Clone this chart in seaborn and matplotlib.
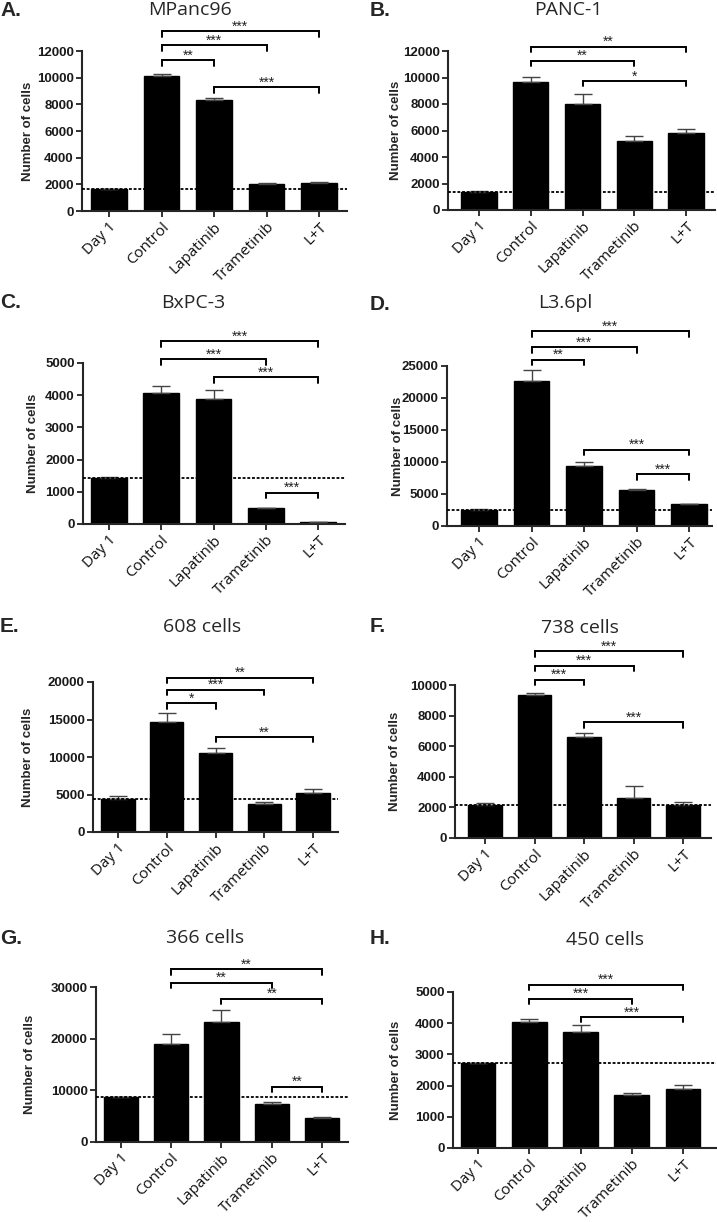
import numpy as np
import matplotlib
matplotlib.use('Agg')
import matplotlib.pyplot as plt
import seaborn as sns

# Data
###############################################################################

categories = ['Day 1', 'Control', 'Lapatinib', 'Trametinib', 'L+T']

letters = ['A.', 'B.', 'C.', 'D.', 'E.', 'F.', 'G.', 'H.']
titles = ['MPanc96', 'PANC-1', 'BxPC-3', 'L3.6pl',
          '608 cells', '738 cells', '366 cells', '450 cells']

means_A = [1650, 10100, 8300, 2050, 2120]
err_A = [30, 150, 150, 30, 40]
means_B = [1380, 9650, 8030, 5200, 5800]
err_B = [20, 420, 700, 380, 300]
means_C = [1440, 4070, 3890, 490, 60]
err_C = [10, 230, 280, 20, 10]
means_D = [2550, 22600, 9430, 5680, 3440]
err_D = [50, 1700, 600, 150, 50]
means_E = [4440, 14670, 10580, 3780, 5160]
err_E = [310, 1230, 660, 220, 530]
means_F = [2160, 9320, 6620, 2640, 2140]
err_F = [140, 160, 240, 780, 190]
means_G = [8620, 18990, 23200, 7390, 4670]
err_G = [60, 1910, 2300, 260, 190]
means_H = [2720, 4040, 3730, 1710, 1890]
err_H = [10, 110, 200, 50, 140]

# Day 1 reference level (dotted line)
baselines = [1640, 1360, 1440, 2550, 4360, 2140, 8620, 2720]

# y-axis top and tick step
ymaxes = [12000, 12000, 5000, 25000, 20000, 10000, 30000, 5000]
ysteps = [2000, 2000, 1000, 5000, 5000, 2000, 10000, 1000]

# significance brackets: (from bar, to bar, height, stars)
brackets_A = [(1, 4, 13500, '***'), (1, 3, 12450, '***'), (1, 2, 11300, '**'), (2, 4, 9300, '***')]
brackets_B = [(1, 4, 12330, '**'), (1, 3, 11270, '**'), (2, 4, 9740, '*')]
brackets_C = [(1, 4, 5670, '***'), (1, 3, 5120, '***'), (2, 4, 4560, '***'), (3, 4, 975, '***')]
brackets_D = [(1, 4, 30400, '***'), (1, 3, 27900, '***'), (1, 2, 26000, '**'),
              (2, 4, 11900, '***'), (3, 4, 8070, '***')]
brackets_E = [(1, 4, 20600, '**'), (1, 3, 19000, '***'), (1, 2, 17200, '*'), (2, 4, 12670, '**')]
brackets_F = [(1, 4, 12200, '***'), (1, 3, 11260, '***'), (1, 2, 10350, '***'), (2, 4, 7580, '***')]
brackets_G = [(1, 4, 33400, '**'), (1, 3, 30800, '**'), (2, 4, 27700, '**'), (3, 4, 10700, '**')]
brackets_H = [(1, 4, 5240, '***'), (1, 3, 4790, '***'), (2, 4, 4200, '***')]

means = [means_A, means_B, means_C, means_D, means_E, means_F, means_G, means_H]
errs = [err_A, err_B, err_C, err_D, err_E, err_F, err_G, err_H]
brackets = [brackets_A, brackets_B, brackets_C, brackets_D,
            brackets_E, brackets_F, brackets_G, brackets_H]

# Layout in pixels: spine left, spine right, first bar centre, last bar centre, top, bottom
###############################################################################

layout = [(82, 347, 109, 319, 51, 211),
          (448, 715, 479, 686, 51, 210),
          (83, 345, 109, 318, 363, 524),
          (447, 712, 479, 689, 366, 526),
          (93, 338, 118, 313, 682, 832),
          (455, 711, 485, 683, 685, 838),
          (96, 348, 121, 322, 987, 1142),
          (453, 716, 478, 683, 992, 1148)]
title_pos = [(190, 10), (568, 10), (193, 303), (565, 303),
             (202, 627), (580, 628), (205, 938), (605, 940)]
letter_pos = [(0, 11), (370, 11), (0, 303), (370, 304),
              (0, 626), (370, 626), (0, 938), (370, 939)]
ylabel_x = [28, 396, 33, 398, 28, 395, 30, 396]

W, H = 717, 1222

sns.set_style('ticks')
plt.rcParams['font.family'] = ['Liberation Sans', 'DejaVu Sans']

fig = plt.figure(figsize=(W / 100, H / 100), dpi=100)

for i in range(8):
    l, r, c0, c4, t, b = layout[i]
    ax = fig.add_axes([l / W, 1 - b / H, (r - l) / W, (b - t) / H])
    s = (c4 - c0) / 4
    ymax = ymaxes[i]

    sns.barplot(x=categories, y=means[i], color='black', saturation=1,
                width=0.68, edgecolor='black', errorbar=None, ax=ax, zorder=2)
    ax.errorbar(range(5), means[i], yerr=[np.zeros(5), errs[i]], fmt='none',
                ecolor='#444444', elinewidth=1.0, capsize=6.5, capthick=1.0, zorder=3)
    ax.axhline(baselines[i], color='black', linestyle=(0, (1.6, 1.0)),
               linewidth=1.3, zorder=4)

    ax.set_xlim(-(c0 - l) / s, 4 + (r - c4) / s)
    ax.set_ylim(0, ymax)
    ax.set_yticks(np.arange(0, ymax + 1, ysteps[i]))
    sns.despine(ax=ax)
    for side in ['left', 'bottom']:
        ax.spines[side].set_linewidth(1.5)
    ax.tick_params(axis='both', width=1.3, length=4, color='#222222')
    ax.tick_params(axis='y', labelsize=9.5, pad=2)
    ax.tick_params(axis='x', pad=2)
    for lab in ax.get_yticklabels():
        lab.set_fontweight('bold')
        lab.set_color('#1a1a1a')
    ax.set_xticks(range(5))
    ax.set_xticklabels(categories, rotation=45, ha='right', va='top',
                       rotation_mode='anchor', fontsize=11, family='Open Sans',
                       color='#111111')

    ax.set_ylabel('Number of cells', fontsize=9.5, fontweight='bold')
    ax.yaxis.set_label_coords((ylabel_x[i] + 6 - l) / (r - l), 0.5)
    ax.set_xlabel('')

    # significance brackets
    leg = 5.5 / (b - t) * ymax
    for x1, x2, yb, stars in brackets[i]:
        ax.plot([x1, x1, x2, x2], [yb - leg, yb, yb, yb - leg], color='black',
                linewidth=1.4, clip_on=False, solid_joinstyle='miter')
        ax.text((x1 + x2) / 2, yb + 0.004 * ymax, stars, ha='center', va='baseline',
                fontsize=10, clip_on=False, color='#222222')

    tx, ty = title_pos[i]
    fig.text(tx / W, 1 - ty / H, titles[i], ha='center', va='center',
             fontsize=14, family='Open Sans')
    lx, ly = letter_pos[i]
    fig.text(lx / W, 1 - ly / H, letters[i], ha='left', va='center',
             fontsize=15, fontweight='bold')

plt.savefig('out.png', dpi=100)
